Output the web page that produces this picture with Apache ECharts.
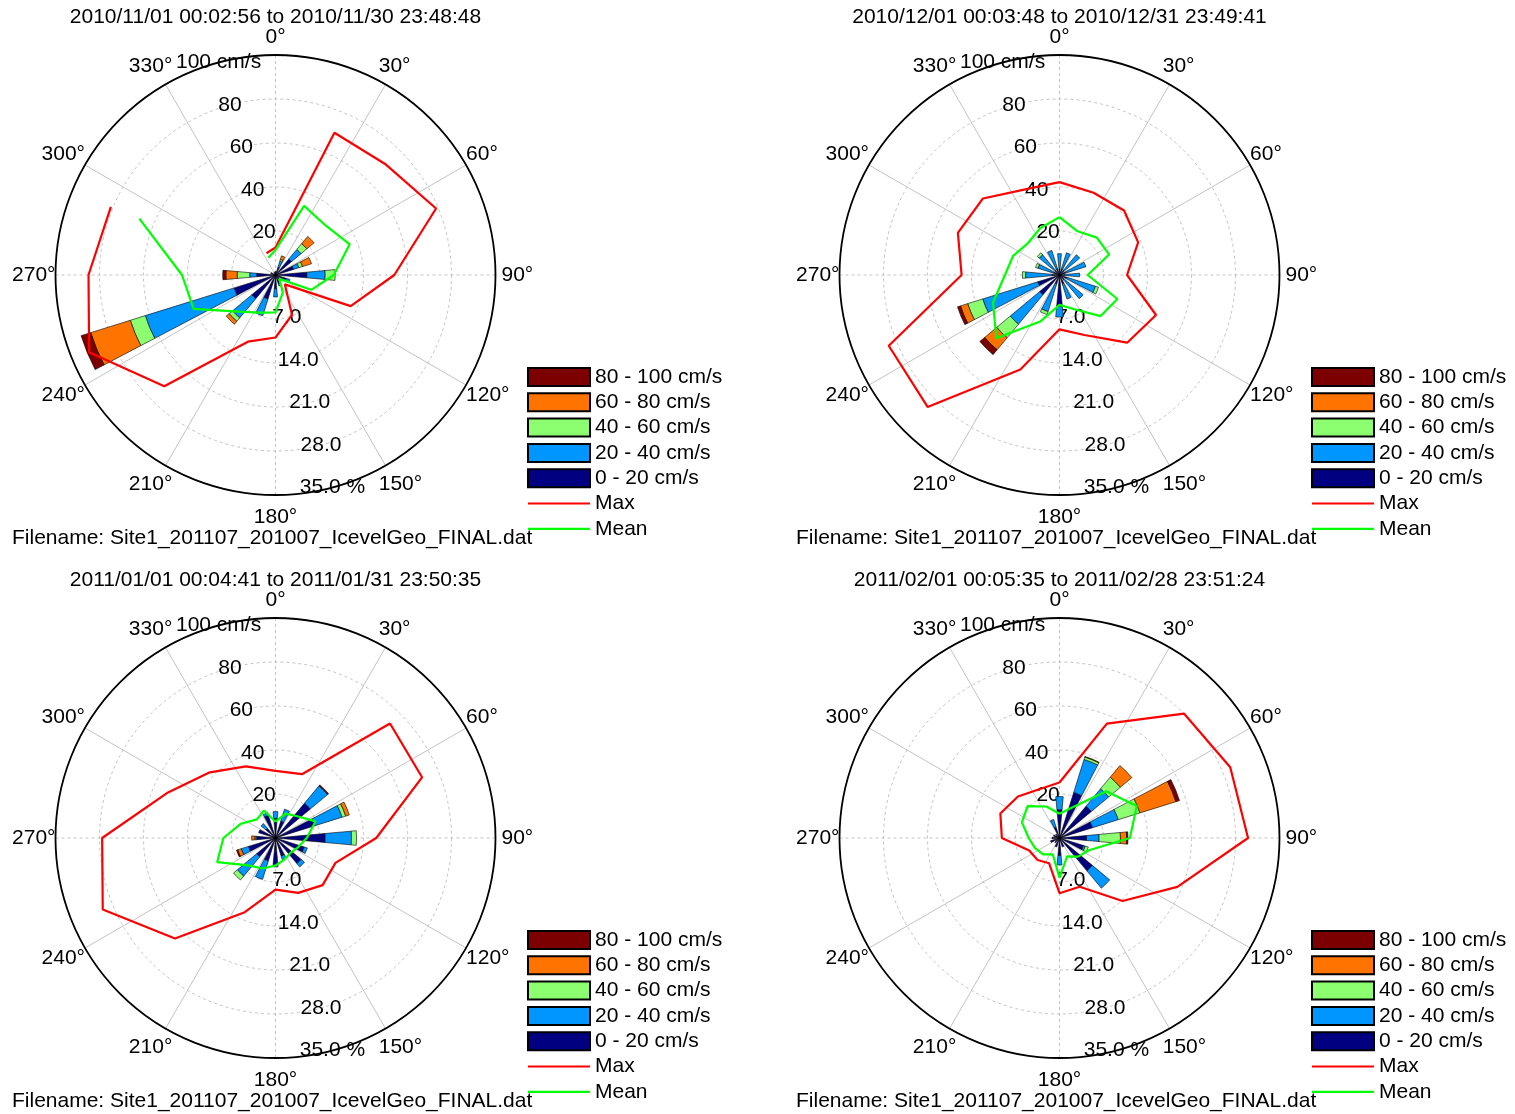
<!DOCTYPE html>
<html><head><meta charset="utf-8">
<script src="https://cdn.jsdelivr.net/npm/echarts@6/dist/echarts.min.js"></script>
<style>html,body{margin:0;padding:0;background:#fff}#c{width:1515px;height:1114px}</style>
</head><body><div id="c"></div><script>
// ---------- data ----------
const DIRS = [0,22.5,45,67.5,90,112.5,135,157.5,180,202.5,225,247.5,270,292.5,315,337.5];
const CLASS_NAMES = ['0 - 20 cm/s','20 - 40 cm/s','40 - 60 cm/s','60 - 80 cm/s','80 - 100 cm/s'];
const CLASS_COLORS = ['#000080','#0096ff','#8cff70','#ff7300','#7d0000'];
const LEGEND_ORDER = ['80 - 100 cm/s','60 - 80 cm/s','40 - 60 cm/s','20 - 40 cm/s','0 - 20 cm/s','Max','Mean'];
const SPEED_TICKS = [0,20,40,60,80,100];
const PCT_TICKS = [0,7,14,21,28,35];
const FILENAME = 'Filename: Site1_201107_201007_IcevelGeo_FINAL.dat';

const TITLE_NOV = '2010/11/01 00:02:56 to 2010/11/30 23:48:48';
const TITLE_DEC = '2010/12/01 00:03:48 to 2010/12/31 23:49:41';
const TITLE_JAN = '2011/01/01 00:04:41 to 2011/01/31 23:50:35';
const TITLE_FEB = '2011/02/01 00:05:35 to 2011/02/28 23:51:24';

// percent of time per direction, by speed class (0-20, 20-40, 40-60, 60-80, 80-100)
const nov0  = [0.6,1.3,3.3,3.0,5.0,1.8,1.0,1.5,2.2,4.0,4.9,6.9,3.0,0.8,0,0.5];
const nov20 = [0,1.0,2.0,0.9,2.9,0.6,0,0.3,1.3,2.8,4.0,14.8,1.1,0,0,0];
const nov40 = [0,0.3,1.2,0.6,1.6,0,0,0,0,0,0.7,2.5,2.0,0,0,0];
const nov60 = [0,0.6,1.5,1.5,0,0,0,0,0,0,0.6,6.6,1.8,0,0,0];
const nov80 = [0,0,0,0,0,0,0,0,0,0,0,1.6,0.5,0,0,0];
const novMax  = [12.5,70,71,79,54,37,6,19.6,28.4,32.8,71.5,91.7,85,81,null,10.7];
const novMean = [11.4,34,32,36.5,26.5,17.6,2.5,8.7,17,18.5,23.5,40.3,42.5,67,null,8.5];

const dec0  = [1.0,1.0,1.0,1.0,0.8,1.2,1.0,1.5,5.0,1.5,4.1,3.6,1.2,1.0,1.0,1.0];
const dec20 = [2.4,2.7,3.2,3.4,2.4,4.8,3.9,2.5,1.7,4.6,6.1,9.2,4.2,2.6,3.2,3.1];
const dec40 = [0,0,0,0,0,0.5,0,0,0,0.5,2.8,2.5,0.5,0.4,0.4,0];
const dec60 = [0,0,0,0,0,0,0,0,0,0,2.5,1.2,0,0,0,0];
const dec80 = [0,0,0,0,0,0,0,0,0,0,1.0,0.5,0,0,0,0];
const decMax  = [42.2,40.5,41.5,38.7,30.7,47.5,43.5,29.5,24.7,46.5,84.8,84,44.5,50,49.2,42];
const decMean = [26.3,21.5,24,24.4,12.8,28.5,26.4,16.7,13.6,22.9,40.6,32.7,24.8,22.8,20.4,23];

const jan0  = [3.1,2.8,7.2,6.6,7.9,4.8,5.3,3.0,4.2,3.8,3.9,4.5,3.0,2.8,2.0,3.8];
const jan20 = [1.1,2.0,3.6,4.5,4.2,0.5,0.7,0.6,0.4,3.1,4.0,1.2,0.3,0,1.0,0.4];
const jan40 = [0,0,0,0.6,0.8,0,0,0,0,0,0.8,0,0,0,0,0];
const jan60 = [0,0,0,0.6,0,0,0,0,0,0,0,0.6,0.5,0,0,0];
const jan80 = [0,0,0.2,0,0,0,0,0,0,0,0,0.2,0,0,0,0];
const janMax  = [30.5,31.4,73.6,72.1,45.8,29.5,30.3,27,23.5,36.5,64.6,85,78.8,53.4,42.2,35.2];
const janMean = [7.4,12,14,19.7,14.2,11.1,9.6,10.6,12.5,15,17.6,28.7,23.7,17,12,13.5];

const feb0  = [4.5,7.6,6.6,5.5,4.3,4.0,6.8,1.5,2.8,1.5,1.0,1.5,1.2,1.0,0.8,1.8];
const feb20 = [2.1,5.5,3.6,4.3,2.0,0.3,3.6,0,1.5,0,0,0,0,0,0,1.3];
const feb40 = [0,0.4,2.4,3.6,3.4,0.5,0,0,0,0,0,0,0,0,0,0];
const feb60 = [0,0.1,2.4,6.0,1.0,0,0,0,0,0,0,0,0,0,0,0];
const feb80 = [0,0,0,0.6,0.2,0,0,0,0,0,0,0,0,0,0,0];
const febMax  = [25.2,56.3,80,84,85.7,58,40.5,24,25.1,12.4,14.1,14.9,26.2,29.1,26.7,24];
const febMean = [11,15,30,38,32,14.5,12,9,18,8,10.5,12,14,18.5,20.5,15.5];

// ---------- layout ----------
const FONT = 'Liberation Sans, Arial, sans-serif';
const FS = 21;
const R = 220;
const PANELS = [
  {title: TITLE_NOV, c:[275.5,275], bars:[nov0,nov20,nov40,nov60,nov80], max:novMax, mean:novMean},
  {title: TITLE_DEC, c:[1059.5,275], bars:[dec0,dec20,dec40,dec60,dec80], max:decMax, mean:decMean},
  {title: TITLE_JAN, c:[275.5,838], bars:[jan0,jan20,jan40,jan60,jan80], max:janMax, mean:janMean},
  {title: TITLE_FEB, c:[1059.5,838], bars:[feb0,feb20,feb40,feb60,feb80], max:febMax, mean:febMean}
];

function ringPoints(vals){
  const n = vals.length;
  const nullIdx = vals.findIndex(v => v == null);
  const pts = [];
  if (nullIdx < 0) {
    vals.forEach((v,i) => pts.push([v, DIRS[i]]));
    pts.push([vals[0], 360]);
  } else {
    for (let k = 1; k < n; k++) {
      const i = (nullIdx + k) % n;
      if (vals[i] != null) pts.push([vals[i], DIRS[i]]);
    }
  }
  return pts;
}

const option = {
  animation: false,
  backgroundColor: '#fff',
  textStyle: {fontFamily: FONT},
  title: [], legend: [], polar: [], angleAxis: [], radiusAxis: [], series: []
};
const labelStyle = {color:'#000', fontSize:FS, fontFamily:FONT};
const LINE_ICON = 'path://M0,0H62V2.2H0Z';
const richBase = {fontSize:FS, fontFamily:FONT, color:'#000'};

// helper: a label-only polar (angle labels), rotated by `rot` degrees, showing only `show` values
function labelPolar(center, rot, show, margin, rich, fmt){
  const idx = option.polar.length;
  option.polar.push({center, radius: R});
  option.angleAxis.push({polarIndex:idx, type:'value', min:0, max:360, interval:30, startAngle:90 + rot, clockwise:true,
    axisLine:{show:false}, axisTick:{show:false}, splitLine:{show:false},
    axisLabel:Object.assign({show:true, margin, rich: rich || {},
      formatter: v => show.indexOf(v) < 0 ? '' : (fmt ? fmt(v) : v + '°')}, labelStyle)});
  option.radiusAxis.push({polarIndex:idx, type:'value', min:0, max:100, show:false});
}

PANELS.forEach((p, pi) => {
  const cx = p.c[0], cy = p.c[1];
  const center = [cx, cy];
  const b = option.polar.length;

  option.title.push({text: p.title, left: cx, top: cy - 268, textAlign: 'center', padding: 0,
    textStyle: {fontSize:FS, fontWeight:'normal', color:'#000', fontFamily:FONT}});
  option.title.push({text: FILENAME, left: cx - 263.5, top: cy + 252.5, padding: 0,
    textStyle: {fontSize:FS, fontWeight:'normal', color:'#000', fontFamily:FONT}});

  // polar b: grid (30deg spokes + speed rings) + Max/Mean lines
  option.polar.push({center, radius: R});
  option.angleAxis.push({polarIndex:b, type:'value', min:0, max:360, interval:30, startAngle:90, clockwise:true,
    axisLine:{show:true, lineStyle:{color:'#000', width:1.8}}, axisTick:{show:false},
    axisLabel:Object.assign({show:true, margin:0,
      formatter: v => ([60,120,240,300].indexOf(v) >= 0) ? v + '°' : ''}, labelStyle),
    splitLine:{show:true, lineStyle:{color:['rgba(0,0,0,0)','#b4b4b4','#b4b4b4'], width:0.8}}});
  option.radiusAxis.push({polarIndex:b, type:'value', min:0, max:100, interval:20,
    axisLine:{show:false}, axisTick:{show:false}, axisLabel:{show:false},
    splitLine:{show:true, lineStyle:{color:'#b4b4b4', type:[3,3], width:0.8}}});

  // polar b+1: cardinal dashed spokes
  option.polar.push({center, radius: R});
  option.angleAxis.push({polarIndex:b+1, type:'value', min:0, max:360, interval:90, startAngle:90, clockwise:true,
    axisLine:{show:false}, axisTick:{show:false}, axisLabel:{show:false},
    splitLine:{show:true, lineStyle:{color:'#b4b4b4', type:[3,3], width:0.8}}});
  option.radiusAxis.push({polarIndex:b+1, type:'value', min:0, max:100, show:false});

  // polar b+2: speed labels along 345 deg
  option.polar.push({center, radius: R});
  option.angleAxis.push({polarIndex:b+2, type:'value', min:0, max:360, startAngle:105, clockwise:true, show:false});
  option.radiusAxis.push({polarIndex:b+2, type:'value', min:SPEED_TICKS[0], max:SPEED_TICKS[SPEED_TICKS.length-1], interval:20,
    axisLine:{show:false}, axisTick:{show:false}, splitLine:{show:false},
    axisLabel:Object.assign({margin:0, align:'center', verticalAlign:'middle',
      formatter: v => v === 0 ? '' : (v === 100 ? v + ' cm/s' : String(v))}, labelStyle)});

  // polar b+3: percent labels along 165 deg
  option.polar.push({center, radius: R});
  option.angleAxis.push({polarIndex:b+3, type:'value', min:0, max:360, startAngle:-75, clockwise:true, show:false});
  option.radiusAxis.push({polarIndex:b+3, type:'value', min:PCT_TICKS[0], max:PCT_TICKS[PCT_TICKS.length-1], interval:7,
    axisLine:{show:false}, axisTick:{show:false}, splitLine:{show:false},
    axisLabel:Object.assign({margin:0, align:'center', verticalAlign:'middle',
      formatter: v => v === 0 ? '' : (v === 35 ? v.toFixed(1) + ' %' : v.toFixed(1))}, labelStyle)});

  // polar b+4: bars (category directions, centred on the compass angles)
  option.polar.push({center, radius: R});
  option.angleAxis.push({polarIndex:b+4, type:'category', data:DIRS.map(String),
    startAngle: 90 + 360 / DIRS.length / 2, clockwise:true, show:false});
  option.radiusAxis.push({polarIndex:b+4, type:'value', min:0, max:35, show:false});

  // angle labels: cardinal (with per-label padding), and near-vertical diagonals
  labelPolar(center, 0, [0,90,180,270], 0, {
      t0:Object.assign({padding:[0,0,7,0]}, richBase),
      t90:Object.assign({padding:[0,0,0,6]}, richBase),
      t180:Object.assign({padding:[12,0,0,0]}, richBase),
      t270:Object.assign({padding:[0,0,0,0]}, richBase)},
    v => '{t' + v + '|' + v + '°}');
  labelPolar(center, 2.5, [30,210], 3.5);
  labelPolar(center, -2.5, [150,330], 3.5);

  p.bars.forEach((arr, k) => {
    option.series.push({type:'bar', coordinateSystem:'polar', polarIndex:b+4, stack:'s'+pi,
      name: CLASS_NAMES[k], barWidth:'46%', z:3,
      itemStyle:{color:CLASS_COLORS[k], borderColor:'#000', borderWidth:0.6},
      data: arr.map(v => v > 0 ? v : '-')});
  });
  option.series.push({type:'line', coordinateSystem:'polar', polarIndex:b, name:'Max', symbol:'none', z:5,
    lineStyle:{color:'#ff0000', width:2.2}, itemStyle:{color:'#ff0000'}, data: ringPoints(p.max)});
  option.series.push({type:'line', coordinateSystem:'polar', polarIndex:b, name:'Mean', symbol:'none', z:5,
    lineStyle:{color:'#00ff00', width:2.2}, itemStyle:{color:'#00ff00'}, data: ringPoints(p.mean)});

  option.legend.push({orient:'vertical', left: cx + 251.5, top: cy + 91.5, padding:0,
    itemWidth:62, itemHeight:18, itemGap:4.3, selectedMode:false,
    data: LEGEND_ORDER.map(n => (n === 'Max' || n === 'Mean') ? {name:n, icon:LINE_ICON} : {name:n, icon:'rect'}),
    textStyle:{fontSize:FS, color:'#000', fontFamily:FONT}});
});

const chart = echarts.init(document.getElementById('c'), null, {renderer:'canvas'});
chart.setOption(option);
</script></body></html>
